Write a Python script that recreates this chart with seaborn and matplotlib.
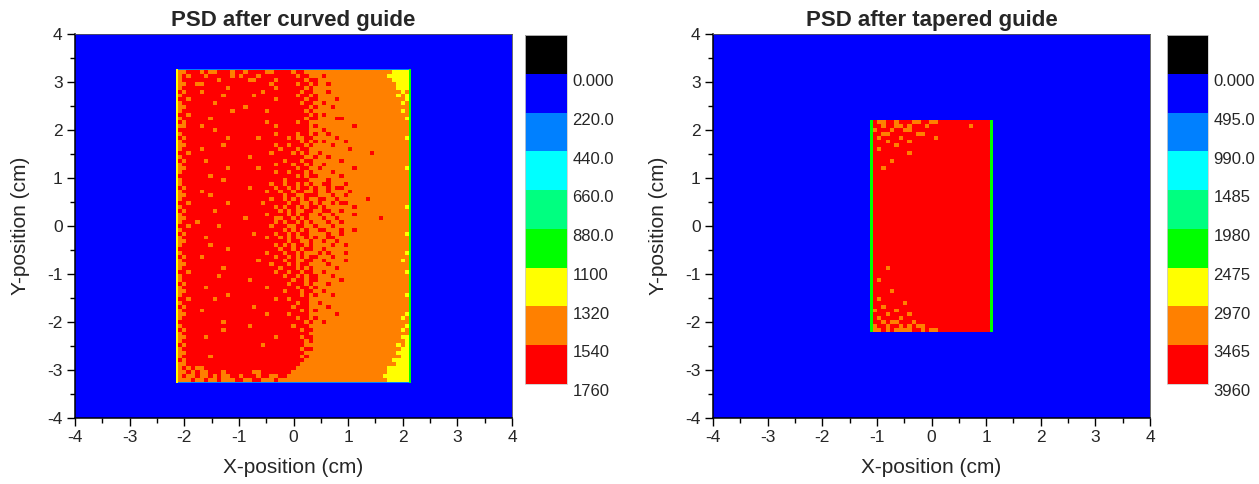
import numpy as np
import matplotlib
matplotlib.use("Agg")
import matplotlib.pyplot as plt
import matplotlib.transforms as mtransforms
from matplotlib.colors import ListedColormap, BoundaryNorm
from matplotlib.cm import ScalarMappable
from matplotlib.ticker import FixedLocator, NullLocator
import seaborn as sns

# ---------------------------------------------------------------- data
axis_ticks = [-4, -3, -2, -1, 0, 1, 2, 3, 4]
axis_tick_labels = ["-4", "-3", "-2", "-1", "0", "1", "2", "3", "4"]

level_colors = ["#000000", "#0000FF", "#0080FF", "#00FFFF", "#00FF80",
                "#00FF00", "#FFFF00", "#FF8000", "#FF0000"]

# Curved guide detector image
curved_title = "PSD after curved guide"
curved_levels = [0, 220, 440, 660, 880, 1100, 1320, 1540, 1760]
curved_counts = {"R": 1650, "O": 1430, "Y": 1210}
curved_edge_counts = {"left": 1210, "right": 990, "top": 330, "bottom": 330}
curved_x_extent = (-2.16, 2.16)
curved_y_extent = (-3.28, 3.28)
# one character per 2x2 block of detector pixels, top row first
curved_rows = [
    "OOR RROROORRRO RRORRRROOR RRRORROOOO OOOOOOOOOO OOOOOOYYYY",
    "ORO RRRORRRRRO RORRRORRRR RRRRORROOO ROOOOOOOOO OOOOOYYYYY",
    "ORR RRRRRRORRR RRROORRRRO RRRRRRORRO OOOOOOOOOO OOOOOOYYYY",
    "OOR ROORRRRRRR RRRRRRRROR RRRRORRORO OROOOOOOOO OOOOOOOYYY",
    "ORR RRRRRRRROR RRRRRRRRRO RRRRRROROO OOOOOOOOOO OOOOOOOYYY",
    "ROR RRORRRRRRR RRRRRRORRR RRRRRORROO OROOOOOOOO OOOOOOOOYO",
    "ORR RRRRRRRORR RRRRORRRRR RRRRORRORO OOOOOOOOOO OOOOOOOYOY",
    "RRO RRRRRRRRRR RRRRRRRRRO RRRRRRORRO OOOROOOOOO OOOOOOOOOY",
    "ORR RRRRRORRRR RRRRRRRRRR RRRRRORROO ROOOOOOOOO OOOOOOOOYO",
    "OOR RRRRRRRRRR RRORRRRRRR RRRRRRRORO OOROOOOOOO OOOOOOOOOO",
    "ORR RRRRRRRRRO RRRRRRRORR RRRRRROROO OOOOOOOOOO OOOOOOOOYO",
    "RRO RRRRRRRRRR RRRRRRRRRR RRRRRRRORO ROOOOOOOOO OOOOOOOOOO",
    "ORR RRRRORRRRR RRRRRRRRRR RRRRRRORRO OOORROOOOO OOOOOOOOOY",
    "ROR RRRRRRRRRR RRRRRRRORR RRRRORROOO OOOOOOOOOO OOOOOOOOOO",
    "OOR RRORRRRRRR RRRRRRRRRO RRRRRRRORO OOOOOOOROO OOOOOOOOOO",
    "RRR RRRRRORRRR RRRRRRRRRR RRRRRRROOO ROOOOOOOOO OOOOOOOOOO",
    "ORR RRRRRRRRRR RRRRRRRRRO RRRRORRORO OROOOOOOOO OOOOOOOOOO",
    "ROR RRRRRRRROR RRRRRORRRR RROROORROO OOOROOOOOO OOOOOOOOOY",
    "ORR RRRRRRRRRR RRRRRRRRRR RRRRRORORO ROOOOROOOO OOOOOOOOOO",
    "OOR RRRRRRRORR RRRRRRRRRO RRORRROROO OOROOOOOOO OOOOOOOOOO",
    "ORR RRORRRRRRR RRRRRRRRRR ORRRORROOO OOOOOOROOO OOOOOOOOOO",
    "RRO RRRRRRRRRR RRRRRRRROR RRROROROOR OOOOOOOOOO OROOOOOOOO",
    "ORR RRRRRRRRRR RRRORRRRRR RRRRRROORO OROOOOOOOO OOOOOOOOOO",
    "ROR RRRORRRRRR RRRRRRRRRR RORRRORROO OOOOROOOOO OOOOOOOOOO",
    "ORR RRRRRRRRRR RRRRRRRRRO RRRORROROO ROOOOOOOOO OOOOOOOOOO",
    "OOR RRRRRRRROR RRRRRORRRR RRRRORROOR OOOOOOOROO OOOOOOOOOY",
    "ORR RRRRRRRRRR RRRRRRRRRO RRORRROROO OOROOOOOOO OOOOOOOOOO",
    "RRR RRRRORRRRR RRRRRRRRRR RRRRORORRO OOOOROOOOO OOOOOOOOOO",
    "ORR RRRRRRRORR RRRRRRRRRR RORRRRROOO OROOOOOOOO OOOOOOOOOO",
    "ORR RRRRRRRRRR RRRRRRRROR RORROROROO RROOOROOOO OOOOOOOOOO",
    "ROR RRRRRRRRRR RRRORRRRRO RRORORRORO ORORROOOOO OOOOOOOOOO",
    "ORR RRORRRRRRR RRRRRRRORR ORRORROORO OROOOOROOO OOOOOOOOOO",
    "OOR RRRRORRRRR RRRRRRRRRR RORROORRRO OOROOROOOO OOOOOOOOOO",
    "ORR RRRRRRRRRR RRRRRRRROR ROROROROOR ROOROOOOOO ROOOOOOOOO",
    "RRO RRRRRRRROR RRRRRRORRR RRORROOROR OORORROOOO OOOOOOOOOO",
    "ORR RRRRRRRRRR RRRRRRRRRO RORRORORRO ROOOOOOROO OOOOOOOOOY",
    "ROR RRRRRORRRR RRRRRRRRRR OROROORROO RROOROOOOO OOOOOOOOOO",
    "ORR RRRRRRRRRR RRRRRRRORR RRORORROOR OOROOOOROO OOOOOOOOOO",
    "OOR RRRRRRRRRR RRORRRRRRO ORROROROOO ROOROOOOOO OOOROOOOOO",
    "ORR RORRRRRRRR RRRRRRRRRO RORROROROO OROOROOOOO OOOOOOOOOO",
    "RRO RRRRRRORRR RRRRRRRROR RROORROORO OOROOOOOOO OOOOOOOOOO",
    "ORR RRRRRRRRRR RRRRRRRRRR ROROROROOR ROOOROOROO OOOOOOOOOO",
    "ROR RRRRRRRRRR RRRRORRRRO RRORORROOO OROOROOOOO OOOOOOOOOY",
    "ORR RRRORRRRRR RRRRRRRORR OROROORORO ORROOOOOOO OOOOOOOOOO",
    "OOR RRRRRRRRRR RRRRRRRRRR RRORROOROO ROOROOOOOO OOOOOOOOOO",
    "ORR RRRRORRRRR RRRRRRRRRO RORORROROO OOROOROOOO OOOOOOOOOO",
    "RRR RRRRRRRROR RRRRRRRRRR ORRORORROO ROOOOOOOOO OOOOOOOOOO",
    "ORR RRRRRRRRRR RRRRRRRORR RORROROOOR OROOOROOOO OOOOOOOOOY",
    "ROR RRORRRRRRR RRRRRRRRRO RRORORORRO OOROOOOOOO OOOOOOOOOO",
    "ORR RRRRRRRRRR RRRRRORRRR RORROORROO ROOOOROOOO OOOOOOOOYO",
    "OOR RRRRRRRRRR RRRRRRRROR RRORORROOO OROOOOOOOO OOOOOOOOOO",
    "ORR RRRRRRRORR RRRRRRRRRR ORRROROROO OOOROOOOOO OOOOOOOOOO",
    "RRO RRRRRRRRRR RRRRRRRRRO RRORRORROO ROOOOOOOOO OOOOOOOOOY",
    "ORR RRRRRRORRR RRRRRRRRRR RORRORORRO OOROOOOOOO OOOOOOOOOO",
    "ORR RRRRRRRRRR RRRORRRRRR RRRORRORRO OOOOROOOOO OOOOOOOOOO",
    "ROR RRRRRRRRRR RRRRRRRRRR RRORRROROO OROOOOOOOO OOOOOOOOOO",
    "ORR RRRORRRRRR RRRRRRRORR RRRRORRORO OOOOOOOOOO OOOOOOOOOO",
    "OOR RRRRRRRRRR RRRRRRRRRR RORRRORROO ROOOOOOOOO OOOOOOOOOO",
    "ORR RRRRRRRROR RRRRRRRRRR RRRRRORORO OOROOOOOOO OOOOOOOOOY",
    "RRO RRRRRORRRR RRRRRRRRRO RRORRRROOO OOOOOOOOOO OOOOOOOOOO",
    "ORR RRRRRRRRRR RRRRRRRRRR RRRRORROOR OOOOOOOOOO OOOOOOOOOO",
    "ROR RRRRRRRRRR RRRRORRRRR RRRORRROOO OROOOOOOOO OOOOOOOOOO",
    "ORR RRORRRRRRR RRRRRRRRRR RRRRRORORO OOOOOOOOOO OOOOOOOOOO",
    "OOR RRRRRRRRRR RRRRRRRORR RRORRRROOO OOOROOOOOO OOOOOOOOOY",
    "ORR RRRRRRRRRR RRRRRRRRRR RRRRORRORO OOOOOOOOOO OOOOOOOOYO",
    "RRR RRRRRRRORR RRRRRRRRRR RRRRRROROO ROOOOOOOOO OOOOOOOOOO",
    "ORR RRRRRRRRRR RRRORRRRRR RRRORRROOO OOOOOOOOOO OOOOOOOOOY",
    "ROR RRRRRRRORR RRRRRRRRRR RRRRRORROO OOOOOOOOOO OOOOOOOOYO",
    "ORR RRRRRRRRRR RRRRRRRRRR RRRRRRROOO OOOOOOOOOO OOOOOOOOOO",
    "OOR RRRORRRRRR RRRRRRRRRO RRRRRORROO OOOOOOOOOO OOOOOOOOYY",
    "ORR RRRRRRRRRR RRRRRRRRRR RRRRRROROO OOOOOOOOOO OOOOOOOOOY",
    "ROR RRRRRRRRRR RRRRRRORRR RRRRRROOOO OOOOOOOOOO OOOOOOOYOY",
    "ORR RRRRRRRRRR RRRRRRRRRR RRRRRORROO OOOOOOOOOO OOOOOOOOYY",
    "OOR RRRRRRRRRR RRRRRRRRRR RRRRRROOOO OOOOOOOOOO OOOOOOOYYY",
    "ORR RRRRORRRRR RRRRRRRRRR RRRRROROOO OOOOOOOOOO OOOOOOOOYY",
    "ROR RRRRRRRRRR RRRRRRRRRR RRRRRROOOO OOOOOOOOOO OOOOOOYYYY",
    "OOR RRRRRRRRRR RRRRRRRRRR RRRRROOOOO OOOOOOOOOO OOOOOOOYYY",
    "ORO ROORRRRRRR RRRRRRRRRR RRRROOOOOO OOOOOOOOOO OOOOOYYYYY",
    "OOR OROORRRORR RRRROORRRR RRROOOOOOO OOOOOOOOOO OOOOOYYYYY",
    "ORO OROOROROOR RORRRORROO RROOOOOOOO OOOOOOOOOO OOOOYYYYYY",
    "OOO ROOROOROOO RROORROOOR OOOOOOOOOO OOOOOOOOOO OOOOOYYYYY",
]

# Tapered guide detector image
tapered_title = "PSD after tapered guide"
tapered_levels = [0, 495, 990, 1485, 1980, 2475, 2970, 3465, 3960]
tapered_counts = {"R": 3700, "O": 3200}
tapered_edge_counts = {"left": 2200, "right": 2200}
tapered_x_extent = (-1.12, 1.12)
tapered_y_extent = (-2.20, 2.20)
tapered_rows = [
    "ROORROR RROORROORR RRRRRRRRRR",
    "RRORROO RORRRORRRR RRRRRORRRR",
    "ORRRORR OORRRRRRRR RRRRRRRRRR",
    "RROORRR RRROORRRRR RRRRRRRRRR",
    "RORRRRO RRRRRRRORR RRRRRRRRRR",
    "RRRORRR RORRRRRRRR RRRRRRRRRR",
    "RRRRROR RRRRRRRRRR RRRRRRRRRR",
    "RORRRRR RRRRRRRRRR RRRRRRRRRR",
    "RRRRRRR RORRRRRRRR RRRRRRRRRR",
    "RRRRRRR RRRRRRRRRR RRRRRRRRRR",
    "RRRRORR RRRRRRRRRR RRRRRRRRRR",
    "RRRRRRR RRRRRRRRRR RRRRRRRRRR",
    "RRORRRR RRRRRRRRRR RRRRRRRRRR",
    "RRRRRRR RRRRRRRRRR RRRRRRRRRR",
    "RRRRRRR RRRRRRRRRR RRRRRRRRRR",
    "RRRRRRR RRRRRRRRRR RRRRRRRRRR",
    "RRRRRRR RRRRRRRRRR RRRRRRRRRR",
    "RRRRRRR RRRRRRRRRR RRRRRRRRRR",
    "RRRRRRR RRRRRRRRRR RRRRRRRRRR",
    "RRRRRRR RRRRRRRRRR RRRRRRRRRR",
    "RRRRRRR RRRRRRRRRR RRRRRRRRRR",
    "RRRRRRR RRRRRRRRRR RRRRRRRRRR",
    "RRRRRRR RRRRRRRRRR RRRRRRRRRR",
    "RRRRRRR RRRRRRRRRR RRRRRRRRRR",
    "RRRRRRR RRRRRRRRRR RRRRRRRRRR",
    "RRRRRRR RRRRRRRRRR RRRRRRRRRR",
    "RRRRRRR RRRRRRRRRR RRRRRRRRRR",
    "RRRRRRR RRRRRRRRRR RRRRRRRRRR",
    "RRRRRRR RRRRRRRRRR RRRRRRRRRR",
    "RRRRRRR RRRRRRRRRR RRRRRRRRRR",
    "RRRRRRR RRRRRRRRRR RRRRRRRRRR",
    "RRRRRRR RRRRRRRRRR RRRRRRRRRR",
    "RRRRRRR RRRRRRRRRR RRRRRRRRRR",
    "RRRRRRR RRRRRRRRRR RRRRRRRRRR",
    "RRRRRRR RRRRRRRRRR RRRRRRRRRR",
    "RRRRRRR RRRRRRRRRR RRRRRRRRRR",
    "RRRRRRR RRRRRRRRRR RRRRRRRRRR",
    "RRRRRRR RRRRRRRRRR RRRRRRRRRR",
    "RRRORRR RRRRRRRRRR RRRRRRRRRR",
    "RRRRRRR RRRRRRRRRR RRRRRRRRRR",
    "RRRRRRR RRRRRRRRRR RRRRRRRRRR",
    "RORRRRR RRRRRRRRRR RRRRRRRRRR",
    "RRRRRRR RRRRRRRRRR RRRRRRRRRR",
    "RRRRRRR RRRRRRRRRR RRRRRRRRRR",
    "RRRRORR RRRRRRRRRR RRRRRRRRRR",
    "RRRRRRR RRRRRRRRRR RRRRRRRRRR",
    "RORRRRR RRRRRRRRRR RRRRRRRRRR",
    "RRRRRRR ORRRRRRRRR RRRRRRRRRR",
    "RRORRRR RRRRRRRRRR RRRRRRRRRR",
    "ORRRROR RRRRRRRRRR RRRRRRRRRR",
    "RRRORRR RORRRRRRRR RRRRRRRRRR",
    "RORRRRO RRRRRRRRRR RRRRRRRRRR",
    "RROROOR RRORRRRRRR RRRRRRRRRR",
    "ORRORRO ROROORRRRR RRRRRRRRRR",
    "OOROROO OORROROORR RRRRRRRRRR",
]

BIN_WIDTH = 0.04   # cm per detector pixel
HALF_SPAN = 4.0    # detector covers -4..4 cm in x and y


def build_image(rows, counts, edges, x_ext, y_ext):
    n = int(round(2 * HALF_SPAN / BIN_WIDTH))
    img = np.zeros((n, n))
    c0 = int(round((x_ext[0] + HALF_SPAN) / BIN_WIDTH))
    c1 = int(round((x_ext[1] + HALF_SPAN) / BIN_WIDTH))
    r0 = int(round((HALF_SPAN - y_ext[1]) / BIN_WIDTH))
    r1 = int(round((HALF_SPAN - y_ext[0]) / BIN_WIDTH))
    block = np.array([[counts[ch] for ch in row.replace(" ", "")] for row in rows],
                     dtype=float)
    block = np.repeat(np.repeat(block, 2, axis=0), 2, axis=1)
    ir0 = r0 + (1 if "top" in edges else 0)
    ir1 = r1 - (1 if "bottom" in edges else 0)
    ic0 = c0 + (1 if "left" in edges else 0)
    ic1 = c1 - (1 if "right" in edges else 0)
    if block.shape != (ir1 - ir0, ic1 - ic0):
        bad = [i for i, r in enumerate(rows) if len(r.replace(" ", "")) != len(rows[0].replace(" ", ""))]
        raise ValueError(f"shape {block.shape} vs {(ir1 - ir0, ic1 - ic0)}; rows {bad}")
    img[ir0:ir1, ic0:ic1] = block
    if "top" in edges:
        img[r0, c0:c1] = edges["top"]
    if "bottom" in edges:
        img[r1 - 1, c0:c1] = edges["bottom"]
    if "left" in edges:
        img[r0:r1, c0] = edges["left"]
    if "right" in edges:
        img[r0:r1, c1 - 1] = edges["right"]
    return img


def level_label(v):
    if v == 0:
        return "0.000"
    digits = max(0, 3 - int(np.floor(np.log10(abs(v)))))
    return f"{v:.{digits}f}"


# ---------------------------------------------------------------- drawing
sns.set_theme(style="ticks")
plt.rcParams["font.family"] = ["Liberation Sans", "DejaVu Sans"]

fig = plt.figure(figsize=(12.59, 4.84), dpi=100)
W, H = 1259.0, 484.0


def px_rect(x0, y_top, x1, y_bot):
    return [x0 / W, 1 - y_bot / H, (x1 - x0) / W, (y_bot - y_top) / H]


panels = [
    (curved_title, curved_levels, curved_rows, curved_counts, curved_edge_counts,
     curved_x_extent, curved_y_extent, px_rect(75, 34, 512, 418), px_rect(525, 35, 567, 384)),
    (tapered_title, tapered_levels, tapered_rows, tapered_counts, tapered_edge_counts,
     tapered_x_extent, tapered_y_extent, px_rect(713, 34, 1150, 418), px_rect(1167, 35, 1208, 384)),
]

cmap = ListedColormap(level_colors)
n_bins = int(round(2 * HALF_SPAN / BIN_WIDTH))

for title, levels, rows, counts, edges, xe, ye, ax_rect, cb_rect in panels:
    bounds = [levels[0] - (levels[1] - levels[0])] + list(levels)
    norm = BoundaryNorm(bounds, ncolors=len(level_colors))
    img = build_image(rows, counts, edges, xe, ye)

    ax = fig.add_axes(ax_rect)
    sns.heatmap(img, ax=ax, cmap=cmap, norm=norm, cbar=False,
                xticklabels=False, yticklabels=False, rasterized=True)
    for side, spine in ax.spines.items():
        spine.set_visible(True)
        spine.set_color("black" if side in ("left", "bottom") else "#555555")
        spine.set_linewidth(1.1 if side in ("left", "bottom") else 0.6)

    xpos = [(v + HALF_SPAN) / BIN_WIDTH for v in axis_ticks]
    ypos = [(HALF_SPAN - v) / BIN_WIDTH for v in axis_ticks]
    ax.set_xticks(xpos)
    ax.set_xticklabels(axis_tick_labels, rotation=0)
    ax.set_yticks(ypos)
    ax.set_yticklabels(axis_tick_labels, rotation=0)
    ax.xaxis.set_minor_locator(FixedLocator([p + 0.5 / BIN_WIDTH for p in xpos[:-1]]))
    ax.yaxis.set_minor_locator(FixedLocator([p - 0.5 / BIN_WIDTH for p in ypos[:-1]]))
    ax.tick_params(which="both", direction="out", bottom=True, left=True,
                   top=False, right=False, color="black", width=1.0)
    ax.tick_params(which="major", length=6, labelsize=12.5, pad=3)
    ax.tick_params(which="minor", length=3.5)
    ax.set_xlim(0, n_bins)
    ax.set_ylim(n_bins, 0)

    ax.set_title(title, fontsize=16, fontweight="bold", pad=6)
    ax.set_xlabel("X-position (cm)", fontsize=15, labelpad=9)
    ax.set_ylabel("Y-position (cm)", fontsize=15, labelpad=12)

    cax = fig.add_axes(cb_rect)
    cb = fig.colorbar(ScalarMappable(norm=norm, cmap=cmap), cax=cax,
                      boundaries=bounds, ticks=levels, spacing="uniform")
    cax.invert_yaxis()
    cax.yaxis.set_minor_locator(NullLocator())
    cb.outline.set_edgecolor("#cccccc")
    cb.outline.set_linewidth(0.6)
    cax.set_yticklabels([level_label(v) for v in levels])
    cax.tick_params(which="both", length=0, labelsize=12, pad=4)
    shift = mtransforms.ScaledTranslation(0, -4.5 / 72, fig.dpi_scale_trans)
    for lab in cax.get_yticklabels():
        lab.set_transform(lab.get_transform() + shift)

fig.savefig("out.png", dpi=100)
